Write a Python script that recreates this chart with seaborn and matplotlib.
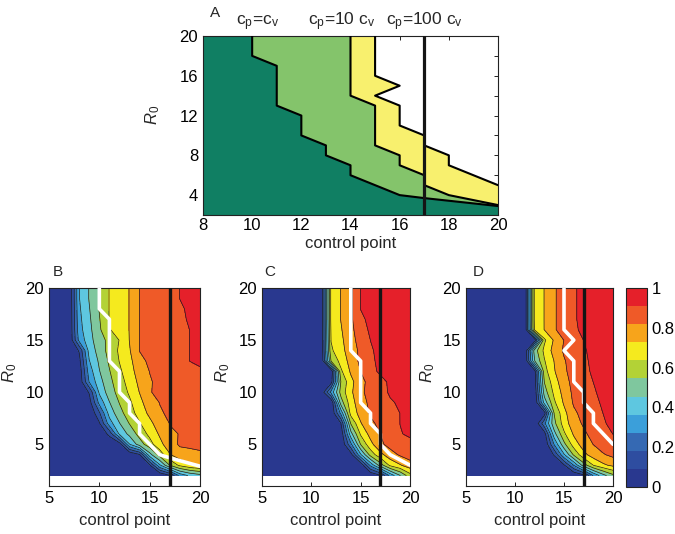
import numpy as np
import matplotlib
matplotlib.use("Agg")
import matplotlib.pyplot as plt
from matplotlib.colors import ListedColormap
import seaborn as sns

# grid of the simulations
control_points = [5, 6, 7, 8, 9, 10, 11, 12, 13, 14, 15, 16, 17, 18, 19, 20]
r0_rows = [20, 19, 18, 17, 16, 15, 14, 13, 12, 11, 10, 9, 8, 7, 6, 5, 4, 3, 2]

# panel B: c_p = c_v
prob_b = [
    [0, 0, 0, .36, .46, .55, .64, .68, .73, .82, .84, .86, .88, .91, .93, .94],
    [0, 0, 0, .36, .46, .55, .64, .68, .73, .82, .84, .86, .88, .91, .93, .94],
    [0, 0, 0, .35, .45, .55, .64, .68, .73, .82, .84, .86, .88, .90, .92, .93],
    [0, 0, 0, .34, .44, .54, .64, .68, .73, .82, .84, .86, .87, .89, .92, .93],
    [0, 0, 0, .33, .43, .53, .63, .68, .73, .82, .84, .86, .87, .89, .91, .93],
    [0, 0, 0, .30, .42, .51, .57, .64, .73, .82, .84, .85, .87, .89, .91, .93],
    [0, 0, 0, .10, .40, .49, .58, .65, .72, .82, .84, .85, .87, .89, .91, .92],
    [0, 0, 0, .06, .36, .47, .56, .64, .70, .80, .83, .85, .87, .89, .91, .92],
    [0, 0, 0, .03, .32, .45, .54, .62, .69, .77, .82, .84, .86, .88, .89, .90],
    [0, 0, 0, .02, .28, .42, .52, .60, .67, .75, .81, .84, .86, .87, .88, .89],
    [0, 0, 0, 0, .10, .38, .50, .58, .65, .73, .815, .83, .85, .86, .87, .88],
    [0, 0, 0, 0, .05, .30, .45, .55, .62, .70, .78, .82, .84, .85, .86, .87],
    [0, 0, 0, 0, 0, .17, .40, .51, .60, .67, .75, .81, .83, .84, .85, .86],
    [0, 0, 0, 0, 0, .08, .32, .45, .55, .63, .70, .78, .82, .83, .84, .85],
    [0, 0, 0, 0, 0, 0, .12, .38, .48, .58, .66, .74, .81, .82, .83, .84],
    [0, 0, 0, 0, 0, 0, 0, .04, .36, .50, .60, .70, .78, .83, .83, .83],
    [0, 0, 0, 0, 0, 0, 0, 0, 0, .08, .42, .58, .72, .78, .80, .81],
    [0, 0, 0, 0, 0, 0, 0, 0, 0, 0, .08, .35, .55, .66, .71, .74],
    [0, 0, 0, 0, 0, 0, 0, 0, 0, 0, 0, 0, .08, .30, .38, .42],
]

# panel C: c_p = 10 c_v
prob_c = [
    [0, 0, 0, 0, 0, 0, 0, .66, .73, .80, .91, .93, .94, .95, .95, .96],
    [0, 0, 0, 0, 0, 0, 0, .66, .73, .80, .91, .93, .94, .95, .95, .96],
    [0, 0, 0, 0, 0, 0, 0, .66, .73, .80, .91, .93, .94, .95, .95, .96],
    [0, 0, 0, 0, 0, 0, 0, .66, .73, .80, .90, .92, .94, .95, .95, .96],
    [0, 0, 0, 0, 0, 0, 0, .65, .72, .79, .88, .92, .94, .95, .95, .96],
    [0, 0, 0, 0, 0, 0, 0, .64, .71, .78, .86, .91, .93, .95, .95, .96],
    [0, 0, 0, 0, 0, 0, 0, .62, .70, .77, .84, .90, .93, .94, .95, .96],
    [0, 0, 0, 0, 0, 0, 0, .55, .67, .76, .84, .90, .92, .94, .95, .96],
    [0, 0, 0, 0, 0, 0, 0, 0, .62, .74, .82, .89, .92, .93, .94, .95],
    [0, 0, 0, 0, 0, 0, 0, .05, .55, .70, .79, .85, .89, .92, .94, .95],
    [0, 0, 0, 0, 0, 0, .02, .30, .58, .71, .80, .85, .88, .92, .93, .95],
    [0, 0, 0, 0, 0, 0, 0, 0, .50, .69, .78, .84, .87, .90, .92, .94],
    [0, 0, 0, 0, 0, 0, 0, 0, .30, .67, .76, .83, .86, .88, .91, .93],
    [0, 0, 0, 0, 0, 0, 0, 0, .09, .55, .72, .80, .84, .87, .91, .93],
    [0, 0, 0, 0, 0, 0, 0, 0, .02, .42, .65, .76, .82, .86, .905, .92],
    [0, 0, 0, 0, 0, 0, 0, 0, 0, .25, .55, .70, .80, .85, .87, .89],
    [0, 0, 0, 0, 0, 0, 0, 0, 0, .05, .35, .58, .70, .78, .83, .86],
    [0, 0, 0, 0, 0, 0, 0, 0, 0, 0, .02, .30, .50, .66, .72, .78],
    [0, 0, 0, 0, 0, 0, 0, 0, 0, 0, 0, 0, .08, .30, .45, .60],
]

# panel D: c_p = 100 c_v
prob_d = [
    [0, 0, 0, 0, 0, 0, 0, .66, .73, .81, .85, .90, .93, .95, .96, .97],
    [0, 0, 0, 0, 0, 0, 0, .66, .73, .81, .85, .90, .93, .95, .96, .97],
    [0, 0, 0, 0, 0, 0, 0, .66, .73, .81, .85, .90, .93, .95, .96, .97],
    [0, 0, 0, 0, 0, 0, 0, .66, .73, .81, .85, .90, .93, .95, .96, .97],
    [0, 0, 0, 0, 0, 0, 0, .65, .73, .81, .85, .90, .92, .95, .96, .97],
    [0, 0, 0, 0, 0, 0, 0, .03, .62, .74, .82, .87, .91, .94, .96, .97],
    [0, 0, 0, 0, 0, 0, 0, .50, .66, .76, .83, .88, .90, .93, .95, .96],
    [0, 0, 0, 0, 0, 0, 0, .45, .63, .73, .81, .86, .89, .93, .95, .96],
    [0, 0, 0, 0, 0, 0, 0, .05, .60, .72, .80, .86, .89, .92, .94, .96],
    [0, 0, 0, 0, 0, 0, 0, .05, .55, .69, .78, .85, .88, .91, .94, .95],
    [0, 0, 0, 0, 0, 0, 0, .02, .50, .66, .76, .84, .87, .90, .93, .95],
    [0, 0, 0, 0, 0, 0, 0, 0, .40, .62, .74, .83, .86, .89, .92, .94],
    [0, 0, 0, 0, 0, 0, 0, 0, .05, .55, .70, .80, .85, .88, .91, .93],
    [0, 0, 0, 0, 0, 0, 0, 0, .25, .52, .68, .78, .83, .87, .90, .93],
    [0, 0, 0, 0, 0, 0, 0, 0, .05, .42, .62, .74, .80, .85, .88, .91],
    [0, 0, 0, 0, 0, 0, 0, 0, 0, .28, .52, .68, .77, .82, .86, .88],
    [0, 0, 0, 0, 0, 0, 0, 0, 0, .10, .35, .56, .70, .77, .81, .84],
    [0, 0, 0, 0, 0, 0, 0, 0, 0, 0, .08, .28, .50, .64, .71, .75],
    [0, 0, 0, 0, 0, 0, 0, 0, 0, 0, 0, 0, .06, .28, .42, .52],
]

# optimal-strategy boundaries (control point, R0) for each cost ratio
cp_cv = [10, 10, 11, 11, 12, 12, 13, 13, 14, 14, 16, 17, 20]
r0_cv = [20, 18, 17, 13, 12, 10, 9, 8, 7, 6, 4, 3.7, 2.9]
cp_10cv = [14, 14, 15, 15, 16, 16, 17, 17, 18, 20]
r0_10cv = [20, 14, 13, 9, 8, 7, 6, 5, 4, 3.0]
cp_100cv = [15, 15, 16, 15, 16, 16, 17, 17, 18, 18, 20]
r0_100cv = [20, 16, 15, 14, 13, 11, 10, 9, 8, 7, 5]

current_cp = 17
cost_labels = ["c$_\\mathregular{p}$=c$_\\mathregular{v}$",
               "c$_\\mathregular{p}$=10 c$_\\mathregular{v}$",
               "c$_\\mathregular{p}$=100 c$_\\mathregular{v}$"]
cost_label_x = [10.2, 13.65, 17.0]

jet11 = ["#29388F", "#2E4DA0", "#3569B3", "#3B9FDA", "#5EC7E0", "#7FC79E",
         "#B3D236", "#F5EA1E", "#F7A41B", "#EF5A28", "#E5202A"]
region_colors = ["#F8F06E", "#84C46B", "#107F63"]

sns.set_style("ticks")
plt.rcParams["font.family"] = ["Liberation Sans", "DejaVu Sans"]
plt.rcParams["mathtext.fontset"] = "custom"
plt.rcParams["mathtext.rm"] = "Liberation Sans"
plt.rcParams["mathtext.it"] = "Liberation Sans:italic"
plt.rcParams["axes.linewidth"] = 0.8
plt.rcParams["axes.edgecolor"] = "#222222"

W, H = 675, 534
fig = plt.figure(figsize=(W / 100, H / 100), dpi=100)


def px_box(l, t, r, b):
    return [l / W, 1 - b / H, (r - l) / W, (b - t) / H]


def style_ticks(ax):
    ax.tick_params(direction="in", top=True, right=True, length=3, width=0.7,
                   labelsize=12, colors="#222222", labelcolor="black")


# ---- panel A ----
ax_a = fig.add_axes(px_box(203, 36, 498, 215))
bounds = [(cp_100cv, r0_100cv), (cp_10cv, r0_10cv), (cp_cv, r0_cv)]
for (cps, r0s), col in zip(bounds, region_colors):
    ax_a.fill([8, 8] + cps + [20], [2, 20] + r0s + [2], color=col, lw=0, zorder=1)
for cps, r0s in bounds:
    sns.lineplot(x=cps, y=r0s, sort=False, estimator=None, color="black",
                 linewidth=1.5, ax=ax_a, zorder=3)
ax_a.axvline(current_cp, color="#151515", lw=2.3, zorder=4)
ax_a.set_xlim(8, 20)
ax_a.set_ylim(2, 20)
ax_a.set_xticks(range(8, 21, 2))
ax_a.set_yticks(range(4, 21, 2))
ax_a.set_yticklabels([str(v) if v % 4 == 0 else "" for v in range(4, 21, 2)])
style_ticks(ax_a)
ax_a.tick_params(axis="x", pad=2.5)
ax_a.set_xlabel("control point", fontsize=12)
ax_a.xaxis.set_label_coords(0.5, -0.12)
ax_a.set_ylabel("$R_0$", fontsize=12)
ax_a.yaxis.set_label_coords(-0.14, 0.56)
for lab, xv in zip(cost_labels, cost_label_x):
    ax_a.text(xv, 1.062, lab, transform=ax_a.get_xaxis_transform(),
              ha="center", va="baseline", fontsize=12.5)
fig.text(215 / W, 1 - 13 / H, "A", ha="center", va="center", fontsize=11)

# ---- panels B, C, D ----
cmap = ListedColormap(jet11)
levels = np.linspace(0, 1, 12)
panels = [
    ("B", prob_b, (cp_cv, r0_cv), (49, 200), 58),
    ("C", prob_c, (cp_10cv, r0_10cv), (262, 410), 270),
    ("D", prob_d, (cp_100cv, r0_100cv), (466, 613), 478),
]
for letter, prob, (cps, r0s), (left, right), lx in panels:
    ax = fig.add_axes(px_box(left, 288, right, 486))
    z = np.array(prob)
    cs = ax.contourf(control_points, r0_rows, z, levels=levels, cmap=cmap,
                     vmin=0, vmax=1, zorder=1)
    ax.contour(control_points, r0_rows, z, levels=levels[1:-1], colors="#1c1c1c",
               linewidths=0.5, zorder=2)
    sns.lineplot(x=cps, y=r0s, sort=False, estimator=None, color="white",
                 linewidth=2.6, ax=ax, zorder=3)
    ax.axvline(current_cp, color="#151515", lw=2.4, zorder=4)
    ax.set_xlim(5, 20)
    ax.set_ylim(1, 20)
    ax.set_xticks([5, 10, 15, 20])
    ax.set_yticks([5, 10, 15, 20])
    style_ticks(ax)
    ax.set_xlabel("control point", fontsize=12)
    ax.xaxis.set_label_coords(0.5, -0.135)
    ax.set_ylabel("$R_0$", fontsize=12)
    ax.yaxis.set_label_coords(-0.2, 0.57)
    fig.text(lx / W, 1 - 272 / H, letter, ha="center", va="center", fontsize=11)

cax = fig.add_axes(px_box(626, 288, 647, 487))
cb = fig.colorbar(cs, cax=cax, ticks=[0, 0.2, 0.4, 0.6, 0.8, 1])
cb.ax.set_yticklabels(["0", "0.2", "0.4", "0.6", "0.8", "1"])
cb.ax.tick_params(direction="in", length=3, width=0.7, labelsize=12, colors="#222222",
                  labelcolor="black")
cb.outline.set_linewidth(0.8)

fig.savefig("out.png", dpi=100)
plt.close(fig)
